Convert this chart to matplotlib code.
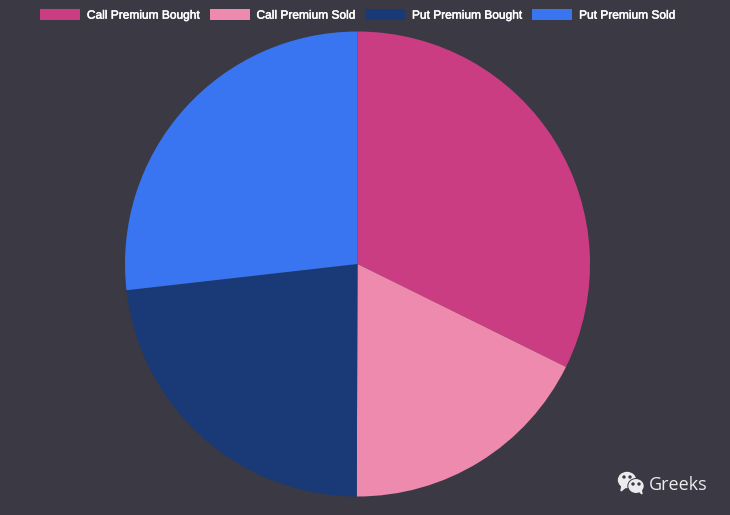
import matplotlib
matplotlib.use('Agg')
import matplotlib.pyplot as plt
import matplotlib.patheffects as pe
from matplotlib.patches import Ellipse, Polygon

labels = ['Call Premium Bought', 'Call Premium Sold', 'Put Premium Bought', 'Put Premium Sold']
values = [32.3, 17.75, 23.15, 26.8]
colors = ['#cb3d82', '#ee8aae', '#193a76', '#3975f0']
bg = '#3a3944'

plt.rcParams['font.family'] = ['Liberation Sans', 'DejaVu Sans']

fig = plt.figure(figsize=(7.3, 5.15), dpi=100, facecolor=bg)
W, H = 730, 515

# pie sits in an axes exactly the size of the circle
cx, cy, r = 357.5, 264, 232.5
ax = fig.add_axes([(cx - r) / W, (H - cy - r) / H, 2 * r / W, 2 * r / H])
wedges, _ = ax.pie(values, colors=colors, startangle=90, counterclock=False, radius=1)
ax.set_xlim(-1, 1)
ax.set_ylim(-1, 1)

leg = fig.legend(wedges, labels, ncol=4, frameon=False, loc='upper left',
                 bbox_to_anchor=(28 / W, 1.006), fontsize=8.6,
                 labelcolor='white', handlelength=3.35, handleheight=1.1,
                 handletextpad=0.58, columnspacing=0.84, borderpad=0.5)
for t in leg.get_texts():
    # reference text looks slightly heavier than the regular face
    t.set_path_effects([pe.withStroke(linewidth=0.35, foreground='white')])

# watermark in pixel coordinates
ov = fig.add_axes([0, 0, 1, 1])
ov.set_xlim(0, W)
ov.set_ylim(H, 0)
ov.axis('off')
ic = '#ececee'
ov.add_patch(Ellipse((627, 480), 17, 15, color=ic))
ov.add_patch(Polygon([(622, 485), (621, 491), (627, 486)], color=ic))
ov.add_patch(Ellipse((636, 486), 16, 14.5, color=bg))
ov.add_patch(Ellipse((636, 486), 14, 12.5, color=ic))
ov.add_patch(Polygon([(638, 490), (642, 494), (641, 489)], color=ic))
for x, y in [(624, 477), (630, 477), (633, 484), (639, 484)]:
    ov.add_patch(Ellipse((x, y), 2.0, 2.0, color=bg))
ov.text(649, 484.5, 'Greeks', color='#ececee', fontsize=13, family='Open Sans',
        ha='left', va='center')

fig.savefig('out.png', dpi=100, facecolor=bg)
